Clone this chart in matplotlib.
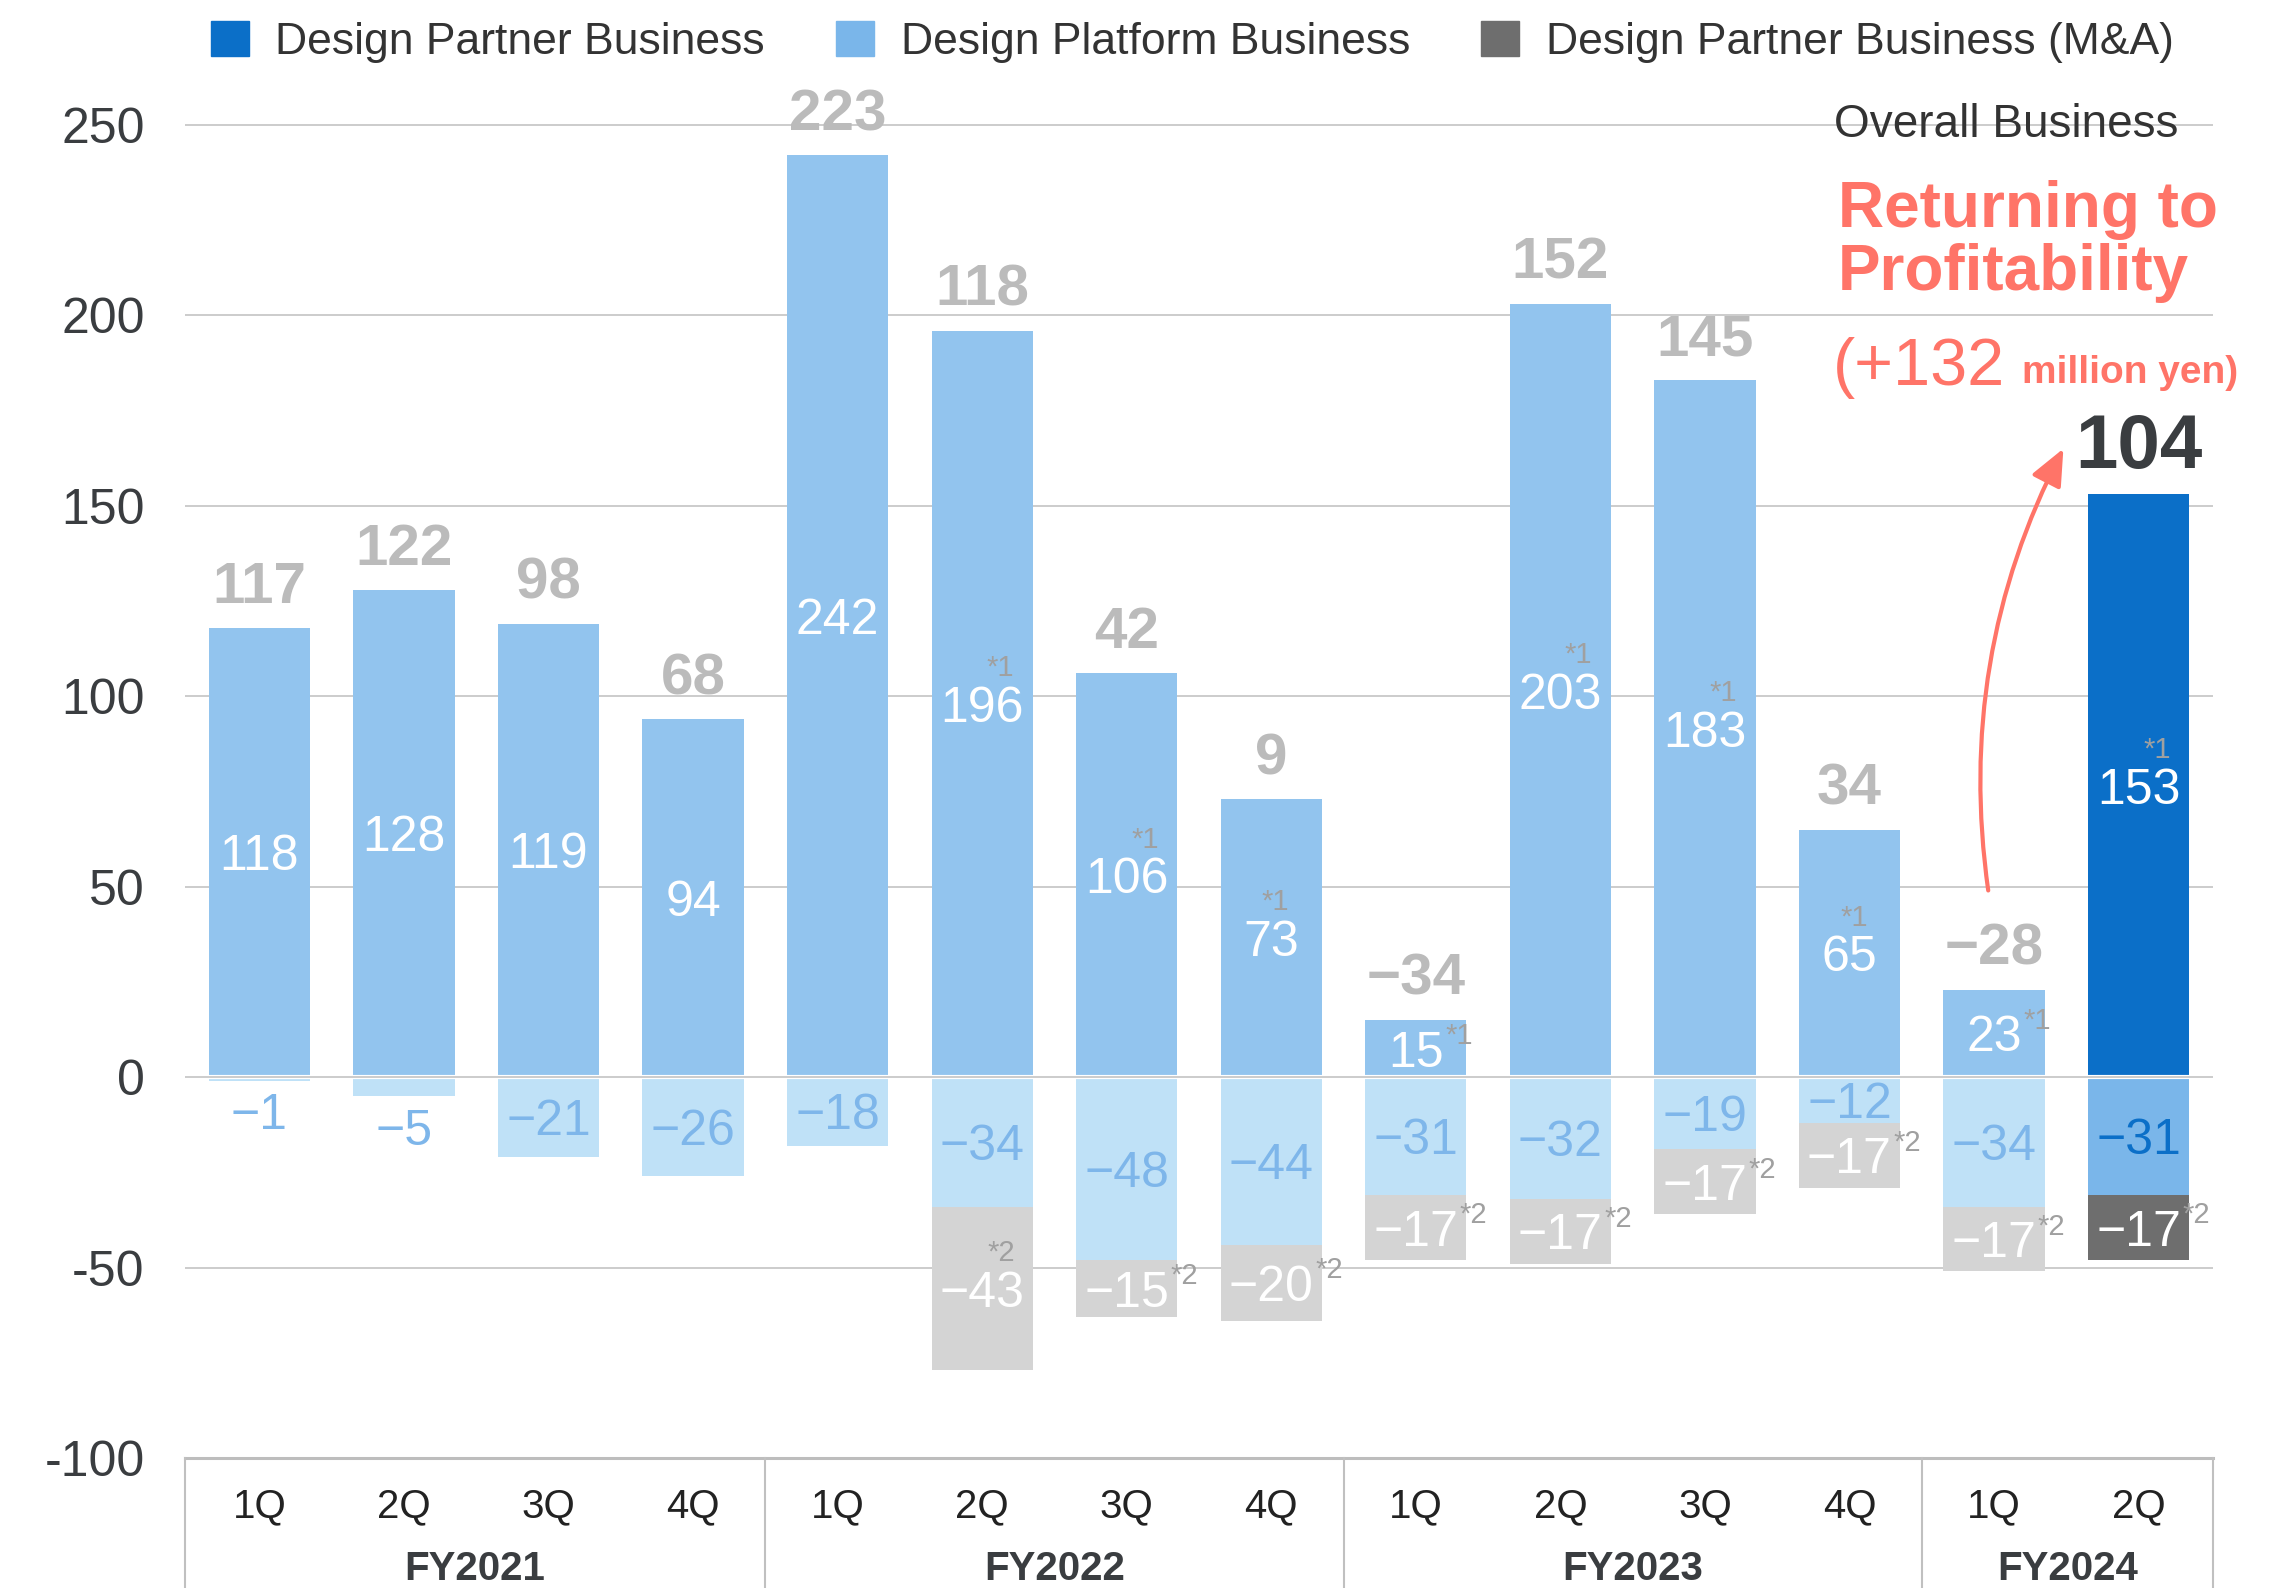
"""
Quarterly operating profit by business segment, FY2021-FY2024.
"""

import matplotlib
matplotlib.use('Agg')
import matplotlib.pyplot as plt
import matplotlib.transforms as mtransforms
from matplotlib.patches import Patch
import numpy as np

quarters = ['1Q', '2Q', '3Q', '4Q', '1Q', '2Q', '3Q', '4Q',
            '1Q', '2Q', '3Q', '4Q', '1Q', '2Q']
years = ['FY2021', 'FY2022', 'FY2023', 'FY2024']
year_sizes = [4, 4, 4, 2]

partner = [118, 128, 119, 94, 242, 196, 106, 73, 15, 203, 183, 65, 23, 153]
platform = [-1, -5, -21, -26, -18, -34, -48, -44, -31, -32, -19, -12, -34, -31]
partner_ma = [0, 0, 0, 0, 0, -43, -15, -20, -17, -17, -17, -17, -17, -17]
overall = [117, 122, 98, 68, 223, 118, 42, 9, -34, 152, 145, 34, -28, 104]
note1 = [False] * 5 + [True] * 9

C_PARTNER, C_PLATFORM, C_MA = '#0B6FC8', '#7AB6EA', '#6E6E6E'
F_PARTNER, F_PLATFORM, F_MA = '#92C4EE', '#BFE1F7', '#D4D4D4'
RED = '#FF7468'
DARK = '#3A3D40'
NOTE = '#A0A0A0'

plt.rcParams['font.family'] = ['Liberation Sans', 'DejaVu Sans']

W, H = 2280, 1588
fig = plt.figure(figsize=(W / 100, H / 100), dpi=100)
ax = fig.add_axes([185 / W, 130 / H, 2028 / W, 1409.3 / H])

n = len(quarters)
x = np.arange(n)
hl = n - 1
pos_col = [F_PARTNER] * hl + [C_PARTNER]
plat_col = [F_PLATFORM] * hl + [C_PLATFORM]
ma_col = [F_MA] * hl + [C_MA]

ax.bar(x, partner, width=0.7, color=pos_col, zorder=2)
ax.bar(x, platform, width=0.7, color=plat_col, zorder=2)
ax.bar(x, partner_ma, bottom=platform, width=0.7, color=ma_col, zorder=2)

ax.set_xlim(-0.515, n - 1 + 0.515)
ax.set_ylim(-100, 270)
ax.set_yticks(range(-100, 251, 50))
ax.set_yticklabels([str(v) for v in range(-100, 251, 50)], fontsize=36, color=DARK)
ax.yaxis.grid(True, color='#C8C8C8', lw=1.3)
ax.set_axisbelow(True)
ax.tick_params(axis='y', length=0, pad=29)
ax.set_xticks(x)
ax.set_xticklabels(quarters, fontsize=29, color='#222222')
ax.tick_params(axis='x', length=0, pad=21)
for s in ['left', 'right', 'top']:
    ax.spines[s].set_visible(False)
ax.spines['bottom'].set_color('#BDBDBD')
ax.spines['bottom'].set_linewidth(2.2)

# zero line with a small white gap between segments
ax.axhline(0, color='white', lw=3, zorder=3)
ax.axhline(0, color='#C8C8C8', lw=1.3, zorder=4)

# fiscal year groups under the quarter labels
trans = mtransforms.blended_transform_factory(ax.transData, ax.transAxes)
trans_fig = mtransforms.blended_transform_factory(ax.transData, fig.transFigure)
edges = np.concatenate([[0], np.cumsum(year_sizes)]) - 0.5
edges[0], edges[-1] = ax.get_xlim()
for b in edges:
    ax.plot([b, b], [0, -0.093], transform=trans, color='#C0C0C0', lw=1.5,
            clip_on=False, zorder=5)
for i, yr in enumerate(years):
    ax.text((edges[i] + edges[i + 1]) / 2, 8 / H, yr, transform=trans_fig,
            ha='center', va='baseline', fontsize=29, fontweight='bold', color=DARK)


def fmt(v):
    return str(v).replace('-', '\u2212')


def add_note(label, s, above):
    if above:
        ax.annotate(s, xy=(1, 1), xycoords=label, xytext=(-7, 7),
                    textcoords='offset points', ha='right', va='baseline',
                    fontsize=21, color=NOTE, zorder=6)
    else:
        ax.annotate(s, xy=(1, 1), xycoords=label, xytext=(1, 6),
                    textcoords='offset points', ha='left', va='top',
                    fontsize=21, color=NOTE, zorder=6)


for i in range(n):
    # positive segment
    lab = ax.text(x[i], partner[i] / 2, fmt(partner[i]), ha='center',
                  va='center_baseline', fontsize=36, color='white', zorder=6)
    if note1[i]:
        add_note(lab, '*1', partner[i] >= 30)

    # platform segment
    yv = platform[i] / 2
    if partner_ma[i] == 0 and abs(platform[i]) < 10:
        yv = platform[i] - 8
    lab = ax.text(x[i], yv, fmt(platform[i]), ha='center', va='center_baseline',
                  fontsize=36, color=C_PARTNER if i == hl else '#7EB6EA', zorder=6)

    # M&A segment
    if partner_ma[i] != 0:
        yv = platform[i] + partner_ma[i] / 2
        lab = ax.text(x[i], yv, fmt(partner_ma[i]), ha='center', va='center_baseline',
                      fontsize=36, color='white', zorder=6)
        add_note(lab, '*2', abs(partner_ma[i]) >= 30)

    # overall total above the bar
    top = max(partner[i], 0)
    if i == hl:
        ax.annotate(fmt(overall[i]), (x[i], top), xytext=(0, 19),
                    textcoords='offset points', ha='center', va='baseline',
                    fontsize=55, fontweight='bold', color=DARK)
    else:
        ax.annotate(fmt(overall[i]), (x[i], top), xytext=(0, 18),
                    textcoords='offset points', ha='center', va='baseline',
                    fontsize=42, fontweight='bold', color='#BBBBBB')

# arrow from the previous quarter to the latest result
ax.annotate('', xy=(12.48, 165), xytext=(11.96, 49),
            arrowprops=dict(arrowstyle='-|>,head_length=0.8,head_width=0.35',
                            color=RED, lw=3, mutation_scale=28,
                            connectionstyle='arc3,rad=-0.16',
                            shrinkA=0, shrinkB=0), zorder=7)

fig.text(2178 / W, 1 - 137 / H, 'Overall Business', ha='right', va='baseline',
         fontsize=33, color='#333333')
fig.text(1838 / W, 1 - 227 / H, 'Returning to', ha='left', va='baseline',
         fontsize=46, fontweight='bold', color=RED)
fig.text(1838 / W, 1 - 290 / H, 'Profitability', ha='left', va='baseline',
         fontsize=46, fontweight='bold', color=RED)
fig.text(1833 / W, 1 - 385 / H, '(+132', ha='left', va='baseline',
         fontsize=48, color=RED)
fig.text(2022 / W, 1 - 383 / H, 'million yen)', ha='left', va='baseline',
         fontsize=28, fontweight='bold', color=RED)

handles = [Patch(color=C_PARTNER), Patch(color=C_PLATFORM), Patch(color=C_MA)]
labels = ['Design Partner Business', 'Design Platform Business',
          'Design Partner Business (M&A)']
leg = fig.legend(handles, labels, loc='center left',
                 bbox_to_anchor=(211 / W, 1 - 42 / H), ncol=3, frameon=False,
                 fontsize=32, handlelength=0.85, handleheight=0.85,
                 handletextpad=0.6, columnspacing=1.6, borderpad=0,
                 borderaxespad=0)
for t in leg.get_texts():
    t.set_color('#333333')

fig.savefig('out.png', dpi=100)
